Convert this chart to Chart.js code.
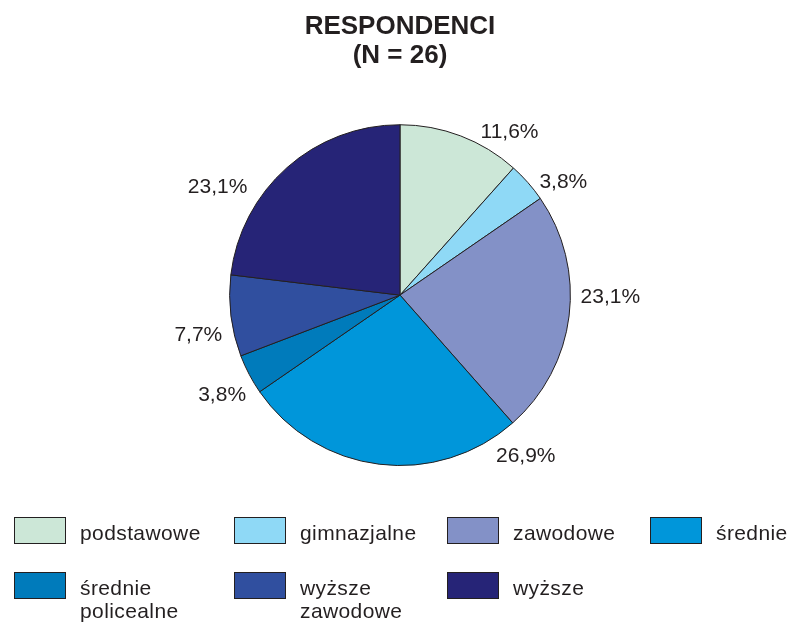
<!DOCTYPE html>
<html>
<head>
<meta charset="utf-8">
<title>Respondenci</title>
<script src="https://cdn.jsdelivr.net/npm/chart.js@4.4.1/dist/chart.umd.min.js"></script>
<style>
    html, body { margin: 0; padding: 0; background: #fff; }
    #wrap { width: 792px; height: 625px; position: relative; }
</style>
</head>
<body>
<div id="wrap"><canvas id="pieChart"></canvas></div>
<script>
// dane z wykresu
const categories = ['podstawowe', 'gimnazjalne', 'zawodowe', 'średnie', 'średnie policealne', 'wyższe zawodowe', 'wyższe'];
const shares = [11.6, 3.8, 23.1, 26.9, 3.8, 7.7, 23.1];
const colors = ['#cce7d7', '#8fd9f6', '#8391c7', '#0096da', '#007bbb', '#304f9f', '#262477'];
const titleLines = ['RESPONDENCI', '(N = 26)'];

const TEXT_COLOR = '#231f20';
const FONT = '"Liberation Sans", Arial, sans-serif';

// etykiety procentowe przy wycinkach
const percentLabels = {
    id: 'percentLabels',
    afterDatasetsDraw(chart, args, opts) {
        const ctx = chart.ctx;
        const arcs = chart.getDatasetMeta(0).data;
        ctx.save();
        ctx.font = '21px ' + FONT;
        ctx.fillStyle = TEXT_COLOR;
        ctx.textAlign = 'center';
        ctx.textBaseline = 'middle';
        arcs.forEach((arc, i) => {
            const p = arc.getProps(['x', 'y', 'outerRadius'], true);
            const a = opts.angles[i] * Math.PI / 180;
            const r = p.outerRadius + opts.gaps[i];
            const txt = shares[i].toFixed(1).replace('.', ',') + '%';
            ctx.fillText(txt, p.x + r * Math.sin(a), p.y - r * Math.cos(a) + 1);
        });
        ctx.restore();
    }
};

// legenda w układzie 4 kolumn (jak w oryginale)
const gridLegend = {
    id: 'gridLegend',
    afterDraw(chart, args, opts) {
        const ctx = chart.ctx;
        ctx.save();
        ctx.font = '21px ' + FONT;
        if ('letterSpacing' in ctx) ctx.letterSpacing = '0.4px';
        ctx.textAlign = 'left';
        ctx.textBaseline = 'alphabetic';
        chart.data.labels.forEach((label, i) => {
            const col = i % opts.columns.length;
            const row = Math.floor(i / opts.columns.length);
            const x = opts.columns[col];
            const y = opts.rows[row];
            ctx.fillStyle = chart.data.datasets[0].backgroundColor[i];
            ctx.fillRect(x, y, opts.boxW, opts.boxH);
            ctx.strokeStyle = TEXT_COLOR;
            ctx.lineWidth = 1;
            ctx.strokeRect(x + 0.5, y + 0.5, opts.boxW - 1, opts.boxH - 1);
            ctx.fillStyle = TEXT_COLOR;
            const lines = label.split(' ');
            lines.forEach((ln, k) => {
                ctx.fillText(ln, x + opts.textOffset, y + opts.boxH / 2 + 9 + k * opts.lineHeight);
            });
        });
        ctx.restore();
    }
};

const ctx = document.getElementById('pieChart');

const chart = new Chart(ctx, {
    type: 'pie',
    data: {
        labels: categories,
        datasets: [{
            data: shares,
            backgroundColor: colors,
            borderColor: TEXT_COLOR,
            borderWidth: 1
        }]
    },
    options: {
        responsive: true,
        maintainAspectRatio: false,
        animation: false,
        layout: {
            padding: { left: 8, right: 0, top: 0, bottom: 159 }
        },
        plugins: {
            legend: { display: false },
            tooltip: { enabled: false },
            title: {
                display: true,
                text: titleLines,
                color: TEXT_COLOR,
                font: { family: FONT, size: 26, weight: 'bold', lineHeight: 1.12 },
                padding: { top: 12, bottom: 54 }
            },
            percentLabels: {
                angles: [33.7, 55, 90.3, 141.8, 241, 259.1, 300.8],
                gaps: [27, 29, 40, 33, 33, 35, 42]
            },
            gridLegend: {
                columns: [14, 234, 447, 650],
                rows: [517, 572],
                boxW: 52,
                boxH: 27,
                textOffset: 66,
                lineHeight: 23
            }
        }
    },
    plugins: [percentLabels, gridLegend]
});
</script>
</body>
</html>
